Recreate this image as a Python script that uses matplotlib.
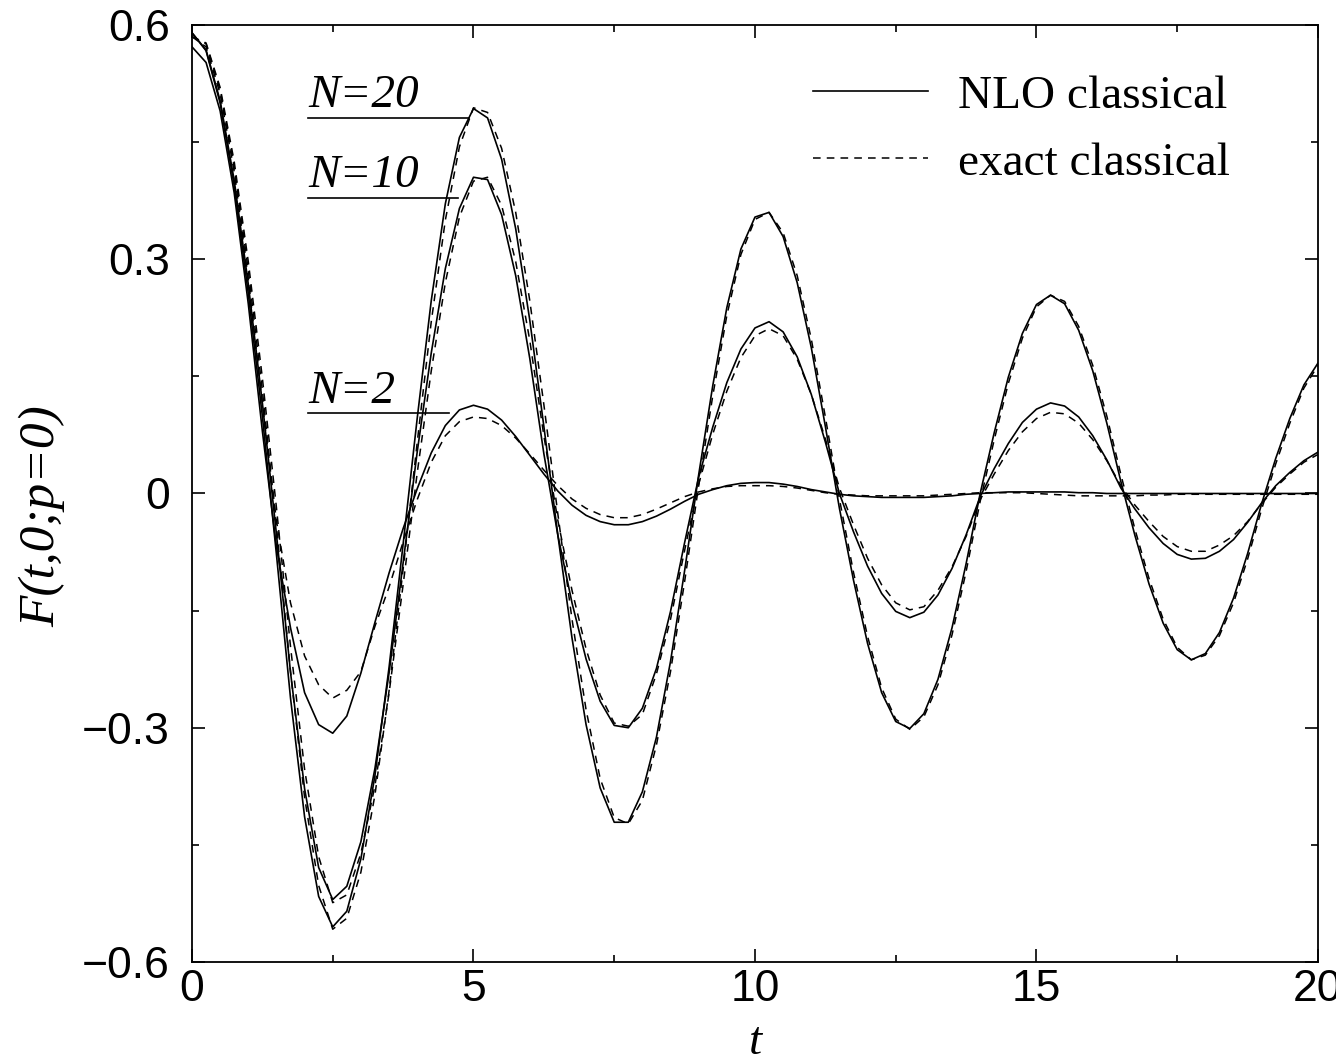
import numpy as np
import matplotlib
matplotlib.use("Agg")
import matplotlib.pyplot as plt
from matplotlib.ticker import MultipleLocator

# time grid, every 0.25 from 0 to 20
t = np.arange(0, 20.001, 0.25)

# values
n20_nlo = [0.590, 0.567, 0.500, 0.394, 0.256, 0.099, -0.078, -0.262, -0.414, -0.516,
           -0.555, -0.535, -0.468, -0.361, -0.223, -0.065, 0.096, 0.247, 0.371, 0.456,
           0.493, 0.481, 0.428, 0.339, 0.222, 0.086, -0.054, -0.185, -0.296, -0.377,
           -0.421, -0.421, -0.382, -0.312, -0.215, -0.099, 0.024, 0.138, 0.238, 0.313,
           0.354, 0.360, 0.329, 0.270, 0.187, 0.086, -0.019, -0.111, -0.192, -0.255,
           -0.292, -0.301, -0.282, -0.238, -0.172, -0.090, 0.000, 0.078, 0.149, 0.205,
           0.242, 0.254, 0.243, 0.209, 0.157, 0.090, 0.015, -0.054, -0.116, -0.166,
           -0.200, -0.213, -0.205, -0.178, -0.134, -0.077, -0.013, 0.045, 0.096, 0.139,
           0.167]
n20_exact = [0.585, 0.576, 0.517, 0.418, 0.286, 0.132, -0.042, -0.228, -0.389, -0.502,
             -0.558, -0.544, -0.485, -0.386, -0.253, -0.097, 0.065, 0.220, 0.350, 0.444,
             0.494, 0.488, 0.442, 0.360, 0.247, 0.114, -0.027, -0.161, -0.277, -0.365,
             -0.415, -0.423, -0.393, -0.322, -0.228, -0.113, 0.010, 0.125, 0.228, 0.306,
             0.351, 0.360, 0.334, 0.279, 0.198, 0.098, -0.007, -0.101, -0.183, -0.249,
             -0.289, -0.302, -0.286, -0.245, -0.181, -0.100, -0.010, 0.069, 0.141, 0.199,
             0.239, 0.254, 0.246, 0.214, 0.164, 0.099, 0.024, -0.046, -0.109, -0.161,
             -0.197, -0.213, -0.207, -0.182, -0.140, -0.084, -0.020, 0.038, 0.090, 0.135,
             0.164]
n10_nlo = [0.590, 0.568, 0.503, 0.401, 0.268, 0.116, -0.052, -0.229, -0.378, -0.479,
           -0.520, -0.503, -0.446, -0.352, -0.230, -0.089, 0.053, 0.180, 0.288, 0.365,
           0.405, 0.402, 0.357, 0.279, 0.173, 0.051, -0.054, -0.140, -0.212, -0.266,
           -0.297, -0.300, -0.275, -0.224, -0.151, -0.063, 0.021, 0.085, 0.142, 0.185,
           0.212, 0.220, 0.207, 0.175, 0.127, 0.066, 0.000, -0.049, -0.093, -0.128,
           -0.151, -0.159, -0.152, -0.130, -0.096, -0.053, -0.004, 0.032, 0.064, 0.091,
           0.108, 0.116, 0.112, 0.098, 0.074, 0.043, 0.007, -0.020, -0.044, -0.064,
           -0.078, -0.084, -0.083, -0.074, -0.059, -0.037, -0.012, 0.010, 0.027, 0.042,
           0.053]
n10_exact = [0.585, 0.577, 0.520, 0.425, 0.297, 0.148, -0.018, -0.196, -0.353, -0.465,
             -0.524, -0.514, -0.461, -0.374, -0.256, -0.117, 0.026, 0.157, 0.270, 0.354,
             0.400, 0.405, 0.369, 0.297, 0.196, 0.074, -0.035, -0.124, -0.199, -0.258,
             -0.294, -0.298, -0.283, -0.231, -0.161, -0.073, 0.012, 0.076, 0.131, 0.174,
             0.202, 0.211, 0.202, 0.172, 0.127, 0.070, 0.007, -0.040, -0.083, -0.117,
             -0.140, -0.149, -0.145, -0.124, -0.094, -0.055, -0.008, 0.025, 0.055, 0.079,
             0.096, 0.104, 0.102, 0.090, 0.069, 0.042, 0.010, -0.015, -0.036, -0.055,
             -0.068, -0.074, -0.074, -0.066, -0.054, -0.036, -0.013, 0.008, 0.025, 0.040,
             0.050]
n2_nlo = [0.572, 0.552, 0.490, 0.385, 0.243, 0.080, -0.068, -0.172, -0.255, -0.296,
          -0.307, -0.285, -0.230, -0.165, -0.102, -0.045, 0.006, 0.052, 0.087, 0.107,
          0.113, 0.108, 0.094, 0.073, 0.049, 0.025, 0.003, -0.015, -0.028, -0.036,
          -0.040, -0.040, -0.036, -0.029, -0.020, -0.010, -0.001, 0.005, 0.010, 0.013,
          0.014, 0.014, 0.012, 0.009, 0.005, 0.002, -0.001, -0.003, -0.004, -0.005,
          -0.005, -0.005, -0.005, -0.004, -0.003, -0.001, 0.000, 0.001, 0.002, 0.002,
          0.002, 0.002, 0.002, 0.001, 0.001, 0.000, 0.000, 0.000, 0.000, 0.000,
          0.000, 0.000, 0.000, 0.000, 0.000, 0.000, 0.000, 0.000, 0.000, 0.000,
          0.000]
n2_exact = [0.585, 0.572, 0.512, 0.412, 0.275, 0.115, -0.035, -0.140, -0.208, -0.245,
            -0.262, -0.252, -0.228, -0.170, -0.120, -0.062, -0.008, 0.040, 0.074, 0.092,
            0.098, 0.096, 0.087, 0.071, 0.051, 0.030, 0.010, -0.007, -0.019, -0.027,
            -0.031, -0.031, -0.027, -0.020, -0.012, -0.004, 0.002, 0.006, 0.009, 0.010,
            0.010, 0.010, 0.009, 0.007, 0.004, 0.001, -0.001, -0.002, -0.003, -0.003,
            -0.003, -0.003, -0.003, -0.002, -0.001, 0.000, 0.001, 0.001, 0.001, 0.001,
            0.000, -0.001, -0.002, -0.003, -0.003, -0.003, -0.003, -0.003, -0.002, -0.002,
            -0.001, -0.001, -0.001, -0.001, -0.001, -0.001, -0.001, -0.001, -0.001, -0.001,
            -0.001]

# curve labels with the rule under each one
labels = ["N=20", "N=10", "N=2"]
label_t = 2.06
label_y = [0.495, 0.392, 0.116]
rule_y = [0.481, 0.378, 0.103]
rule_end = [4.92, 4.72, 4.56]

xticks = [0, 5, 10, 15, 20]
yticks = [-0.6, -0.3, 0, 0.3, 0.6]
yticklabels = ["\u22120.6", "\u22120.3", "0", "0.3", "0.6"]

serif = "Liberation Serif"
sans = "Liberation Sans"

fig = plt.figure(figsize=(13.36, 10.63), dpi=100)
ax = fig.add_axes([0.1437, 0.0950, 0.8428, 0.8815])

solid = dict(color="black", lw=1.2, solid_joinstyle="round")
dash = dict(color="black", lw=1.1, dashes=(5, 4))

ax.plot(t, n20_nlo, label="NLO classical", **solid)
ax.plot(t, n20_exact, label="exact classical", **dash)
ax.plot(t, n10_nlo, **solid)
ax.plot(t, n10_exact, **dash)
ax.plot(t, n2_nlo, **solid)
ax.plot(t, n2_exact, **dash)

for lab, ly, ry, re in zip(labels, label_y, rule_y, rule_end):
    ax.text(label_t, ly, lab, family=serif, style="italic", fontsize=34,
            ha="left", va="baseline")
    ax.plot([label_t, re], [ry, ry], color="black", lw=1.2)

ax.set_xlim(0, 20)
ax.set_ylim(-0.6, 0.6)
ax.set_xticks(xticks)
ax.set_xticklabels([str(x) for x in xticks], family=sans)
ax.set_yticks(yticks)
ax.set_yticklabels(yticklabels, family=sans)
ax.xaxis.set_minor_locator(MultipleLocator(2.5))
ax.yaxis.set_minor_locator(MultipleLocator(0.15))
ax.tick_params(which="both", direction="in", top=True, right=True,
               width=1.2, labelsize=32)
ax.tick_params(which="major", length=9.5)
ax.tick_params(which="minor", length=5)
ax.tick_params(axis="x", pad=5)
ax.tick_params(axis="y", pad=16)
for s in ax.spines.values():
    s.set_linewidth(1.3)

fig.text(755 / 1336, 1 - 1043 / 1063, "t", family=serif, style="italic",
         fontsize=34, ha="center", va="center")
fig.text(42 / 1336, 1 - 516 / 1063, "F(t,0;p=0)", family=serif, style="italic",
         fontsize=37, ha="center", va="center", rotation=90)

ax.legend(loc="upper left", bbox_to_anchor=(0.5515, 0.947), frameon=False,
          prop={"family": serif, "size": 34}, handlelength=2.43,
          handletextpad=0.64, labelspacing=0.51, borderpad=0, borderaxespad=0)

fig.savefig("out.png", dpi=100)
